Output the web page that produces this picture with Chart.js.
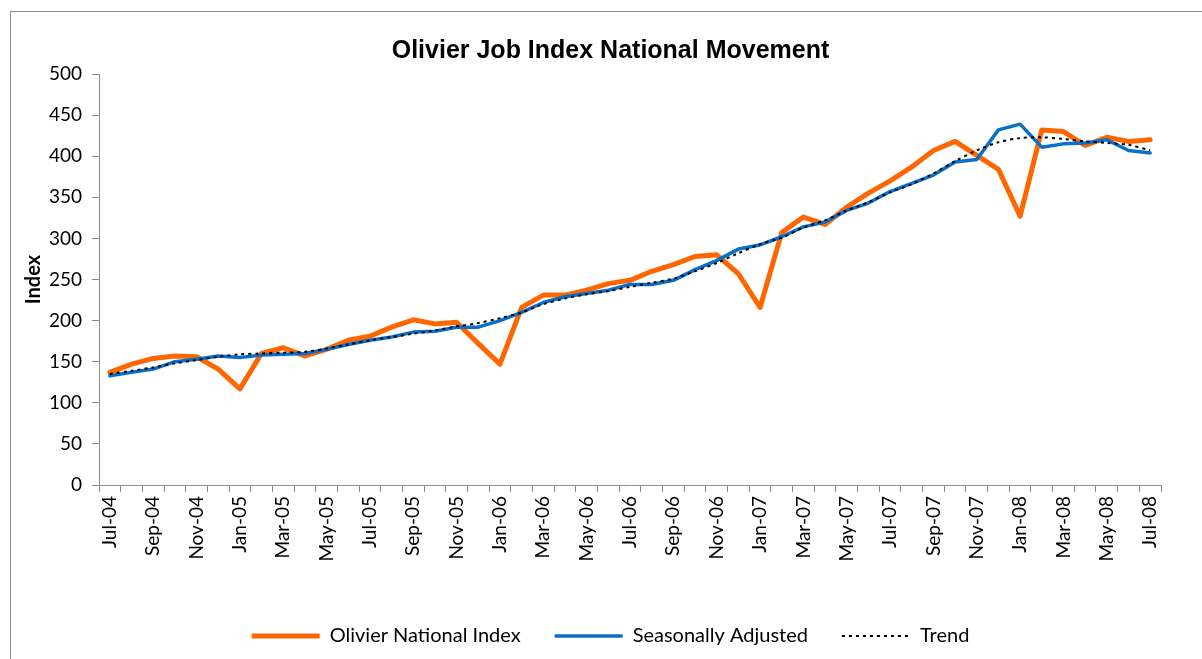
<!DOCTYPE html>
<html>
<head>
<meta charset="utf-8">
<script src="https://cdn.jsdelivr.net/npm/chart.js@4/dist/chart.umd.min.js"></script>
<style>
html,body{margin:0;padding:0;background:#fff;}
#wrap{width:1202px;height:659px;position:relative;}
</style>
</head>
<body>
<div id="wrap"><canvas id="c" width="1202" height="659"></canvas></div>
<script>
const months = ["Jul-04","Aug-04","Sep-04","Oct-04","Nov-04","Dec-04","Jan-05","Feb-05","Mar-05","Apr-05","May-05","Jun-05",
"Jul-05","Aug-05","Sep-05","Oct-05","Nov-05","Dec-05","Jan-06","Feb-06","Mar-06","Apr-06","May-06","Jun-06",
"Jul-06","Aug-06","Sep-06","Oct-06","Nov-06","Dec-06","Jan-07","Feb-07","Mar-07","Apr-07","May-07","Jun-07",
"Jul-07","Aug-07","Sep-07","Oct-07","Nov-07","Dec-07","Jan-08","Feb-08","Mar-08","Apr-08","May-08","Jun-08","Jul-08"];

const nationalIndex = [137,147,154,157,156,141,117,160,167,157,165,176,
181,192,201,196,198,172,147,216,231,231,237,245,
249,260,268,278,280,257,216,307,326,317,338,355,
370,387,407,418,401,384,327,432,430,413,423,418,420];

const seasonallyAdjusted = [133,137,141,150,153,157,155,158,159,160,165,171,
176,180,186,187,192,192,200,210,222,229,233,237,
244,244,249,262,273,287,292,302,314,320,334,343,
357,367,377,393,396,432,439,411,415,416,420,407,404];

const trend = [135,139,143,148,152,156,159,160,161,162,166,171,
176,180,184,188,193,197,203,210,220,227,232,236,
241,246,251,260,270,282,293,301,313,322,334,344,
356,366,379,394,407,417,422,423,421,418,416,414,407];

const yMin = 0, yMax = 500, yStep = 50;
const titleText = "Olivier Job Index National Movement";
const yTitle = "Index";

const frame = {
  id: 'frame',
  afterLayout(chart) {
    const shift = 25;
    [chart.titleBlock, chart.legend].forEach(b => {
      if (b) { b.left += shift; b.right += shift; }
    });
    if (chart.legend && chart.legend.adjustHitBoxes) chart.legend.adjustHitBoxes();
  },
  beforeDraw(chart) {
    const ctx = chart.ctx;
    ctx.save();
    ctx.fillStyle = '#fff';
    ctx.fillRect(0, 0, chart.width, chart.height);
    ctx.strokeStyle = '#8c8c8c';
    ctx.lineWidth = 1;
    ctx.strokeRect(10.5, 11.5, 1200, 660);
    ctx.restore();
  }
};

const tickFont = { family: "Lato, 'Noto Sans', sans-serif", size: 19 };

new Chart(document.getElementById('c'), {
  type: 'line',
  data: {
    labels: months,
    datasets: [
      { label: 'Olivier National Index', data: nationalIndex, borderColor: '#FF6600', backgroundColor: '#FF6600',
        borderWidth: 5, pointRadius: 0, borderCapStyle: 'round', borderJoinStyle: 'round', tension: 0, order: 3 },
      { label: 'Seasonally Adjusted', data: seasonallyAdjusted, borderColor: '#0A6FC8', backgroundColor: '#0A6FC8',
        borderWidth: 3.5, pointRadius: 0, borderCapStyle: 'round', borderJoinStyle: 'round', tension: 0, order: 2 },
      { label: 'Trend', data: trend, borderColor: '#000', backgroundColor: '#000',
        borderWidth: 2, borderDash: [3, 4], pointRadius: 0, tension: 0.3, order: 1 }
    ]
  },
  options: {
    responsive: false,
    animation: false,
    layout: { padding: { left: 10, right: 41, top: 32, bottom: 3 } },
    plugins: {
      title: { display: true, text: titleText, color: '#000',
        font: { family: "'Liberation Sans', Arial, sans-serif", size: 25, weight: 'bold' },
        padding: { top: 4, bottom: 8 } },
      legend: { position: 'bottom', labels: { usePointStyle: true, pointStyle: 'line', pointStyleWidth: 68,
        color: '#000', font: { family: "Lato, 'Noto Sans', sans-serif", size: 20 }, padding: 34,
        sort: (a, b) => a.datasetIndex - b.datasetIndex,
        generateLabels: function(chart) {
          const items = Chart.defaults.plugins.legend.labels.generateLabels(chart);
          items.forEach(it => {
            const ds = chart.data.datasets[it.datasetIndex];
            it.lineDash = ds.borderDash || [];
            it.lineWidth = ds.borderWidth;
            it.strokeStyle = ds.borderColor;
          });
          return items;
        } } },
      tooltip: { enabled: false }
    },
    scales: {
      x: {
        offset: true,
        grid: { offset: true, drawOnChartArea: false, drawTicks: true, tickLength: 7, color: '#8c8c8c' },
        border: { display: true, color: '#8c8c8c', width: 1 },
        ticks: { autoSkip: false, maxRotation: 90, minRotation: 90, color: '#000', font: tickFont, padding: 4,
          callback: function(v, i) { return i % 2 === 0 ? months[i] : ''; } },
        afterFit: function(s) { s.height = 107; }
      },
      y: {
        min: yMin, max: yMax,
        grid: { drawOnChartArea: false, drawTicks: true, tickLength: 7, color: '#8c8c8c' },
        border: { display: true, color: '#8c8c8c', width: 1 },
        ticks: { stepSize: yStep, color: '#000', font: tickFont, padding: 10 },
        title: { display: true, text: yTitle, color: '#000',
          font: { family: "Lato, 'Noto Sans', sans-serif", size: 20, weight: 'bold' }, padding: { top: 12, bottom: 0 } },
        afterFit: function(s) { s.width = 89; }
      }
    }
  },
  plugins: [frame]
});
</script>
</body>
</html>
